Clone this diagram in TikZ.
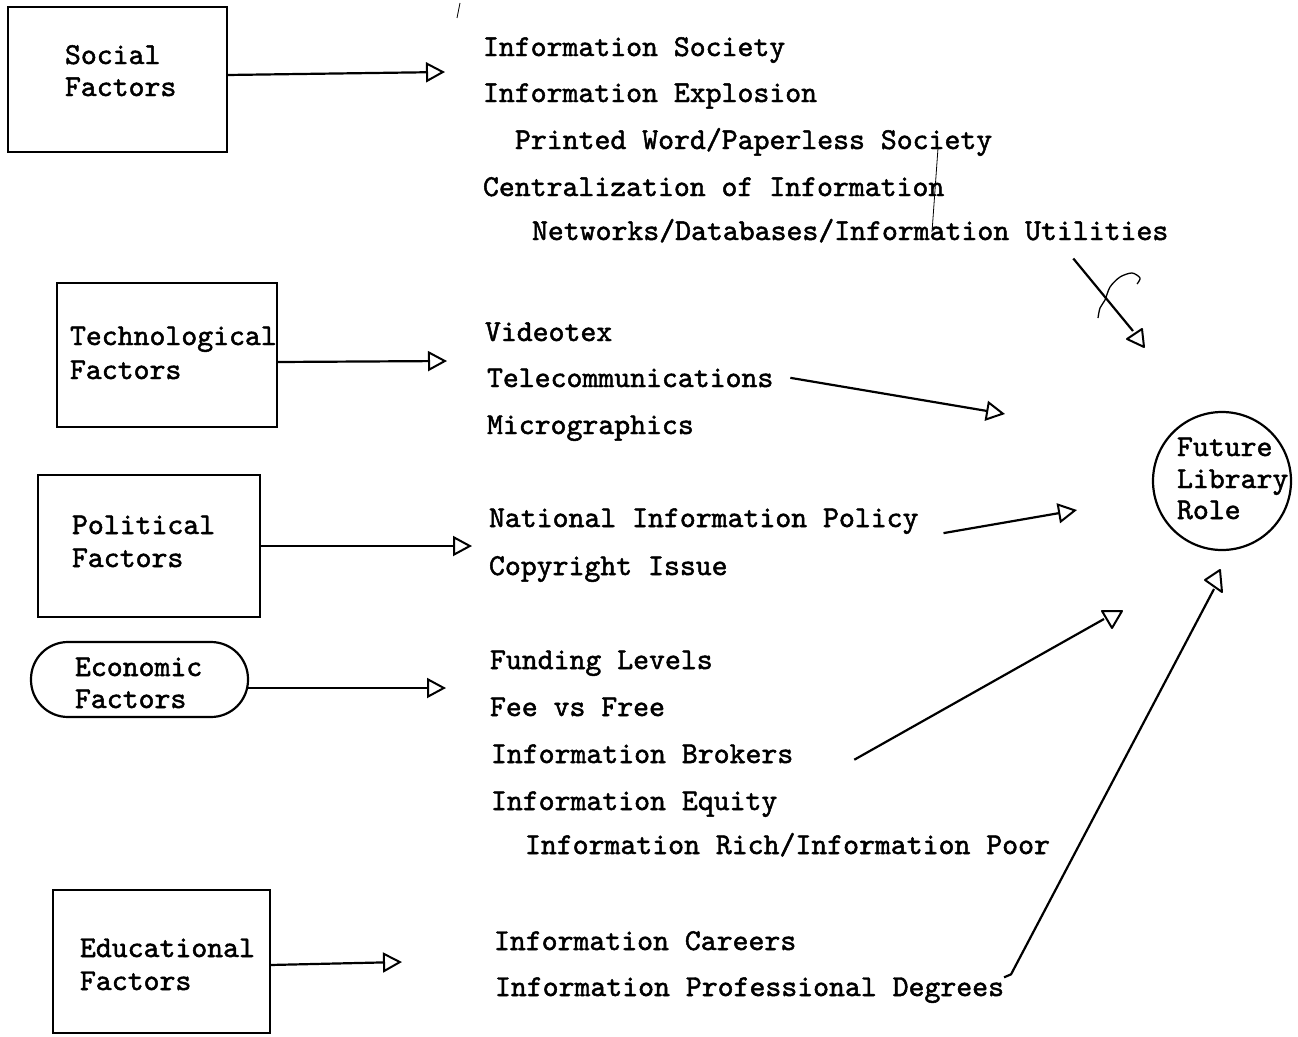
\documentclass[tikz,border=0pt]{standalone}
\usepackage{fontspec}
\newfontfamily\twfont{lmmono10-regular.otf}[FakeBold=1.6]
\usetikzlibrary{arrows.meta}
\begin{document}
\begin{tikzpicture}[x=1pt,y=-1pt,
  txt/.style={anchor=base west,inner sep=0pt,outer sep=0pt,font=\fontsize{30.3}{36}\selectfont\twfont},
  factorbox/.style={draw,line width=2.2pt,inner sep=0pt,outer sep=0pt},
  conn/.style={line width=2.2pt,-{Triangle[open,length=19pt,width=20pt,line width=2pt]}},
  plainline/.style={line width=2.2pt},
  tri/.style={line width=2pt,line join=round},
  pencil/.style={line width=0.8pt}]
\useasboundingbox (0,0) rectangle (1298,1036);

% factor boxes
\node[factorbox,minimum width=219pt,minimum height=145pt] (social) at (117.5,79.5) {};
\node[factorbox,minimum width=220pt,minimum height=144pt] (tech) at (167,355) {};
\node[factorbox,minimum width=222pt,minimum height=142pt] (pol) at (149,546) {};
\node[factorbox,minimum width=217pt,minimum height=75pt,rounded corners=37pt] (econ) at (139.5,679.5) {};
\node[factorbox,minimum width=217pt,minimum height=143pt] (edu) at (161.5,961.5) {};
\node[draw,circle,line width=2.2pt,minimum size=138pt,inner sep=0pt] (role) at (1222,481) {};

% box labels
\node[txt] (socA) at (65,64) {Social};
\node[txt] (socB) at (65,96) {Factors};
\node[txt] (techA) at (70,345) {Technological};
\node[txt] (techB) at (70,379) {Factors};
\node[txt] (polA) at (72,534) {Political};
\node[txt] (polB) at (72,567) {Factors};
\node[txt] (econA) at (75,676) {Economic};
\node[txt] (econB) at (75,708) {Factors};
\node[txt] (eduA) at (80,957) {Educational};
\node[txt] (eduB) at (80,990) {Factors};
\node[txt] (roleA) at (1177,456) {Future};
\node[txt] (roleB) at (1177,488) {Library};
\node[txt] (roleC) at (1177,519) {Role};

% issue lists
\node[txt] (is1) at (483,56) {Information Society};
\node[txt] (is2) at (483,102) {Information Explosion};
\node[txt] (is3) at (515,149) {Printed Word/Paperless Society};
\node[txt] (is4) at (483,196) {Centralization of Information};
\node[txt] (is5) at (532,240) {Networks/Databases/Information Utilities};
\node[txt] (it1) at (485,341) {Videotex};
\node[txt] (it2) at (487,387) {Telecommunications};
\node[txt] (it3) at (487,434) {Micrographics};
\node[txt] (ip1) at (489,527) {National Information Policy};
\node[txt] (ip2) at (489,575) {Copyright Issue};
\node[txt] (ie1) at (490,669) {Funding Levels};
\node[txt] (ie2) at (490,716) {Fee vs Free};
\node[txt] (ie3) at (491,763) {Information Brokers};
\node[txt] (ie4) at (491,810) {Information Equity};
\node[txt] (ie5) at (525,854) {Information Rich/Information Poor};
\node[txt] (id1) at (494,950) {Information Careers};
\node[txt] (id2) at (495,996) {Information Professional Degrees};

% arrow end points
\coordinate (socTip) at (445,72);
\coordinate (techTip) at (447,361);
\coordinate (polTip) at (472,546);
\coordinate (econTip) at (446,688);
\coordinate (eduTip) at (402,962);
\coordinate (telTip) at (1005,414);
\coordinate (natTip) at (1077,510);
\coordinate (netTip) at (1133,331);
\coordinate (broTip) at (1104,619);
\coordinate (degTip) at (1214,589);

% horizontal connectors
\draw[conn] ([yshift=4.5pt]social.east) -- (socTip);
\draw[conn] ([yshift=-7pt]tech.east) -- (techTip);
\draw[conn] (pol.east) -- (polTip);
\draw[conn] ([yshift=-8.5pt]econ.east) -- (econTip);
\draw[conn] ([yshift=-3.5pt]edu.east) -- (eduTip);

% connectors towards the role
\draw[conn] ([xshift=17pt]it2.east) -- (telTip);
\draw[conn] ([xshift=25pt,yshift=-12pt]ip1.east) -- (natTip);
\draw[plainline] ([xshift=-95pt,yshift=-16pt]is5.south east) -- (netTip);
\draw[tri] (netTip) ++(-6,8) -- ++(15,-10) -- ++(2,18) -- cycle;
\draw[plainline] ([xshift=61pt,yshift=-6pt]ie3.east) -- (broTip);
\draw[tri] (broTip) ++(-2,-8) -- ++(20,0) -- ++(-10,17) -- cycle;
\draw[plainline] (id2.north east) -- ++(7,-3) -- (degTip);
\draw[tri] (degTip) ++(-9,-9) -- ++(15,-10) -- ++(2,22) -- cycle;

% pencil marks
\draw[pencil,line width=1.3pt] plot[smooth] coordinates {(1098,318) (1100,308) (1105,300) (1110,287) (1120,277) (1132,273) (1140,278) (1137,284)};
\draw[pencil] (938,148) -- (932,232);
\draw[pencil] (460,3) -- (457,18);
\end{tikzpicture}
\end{document}
